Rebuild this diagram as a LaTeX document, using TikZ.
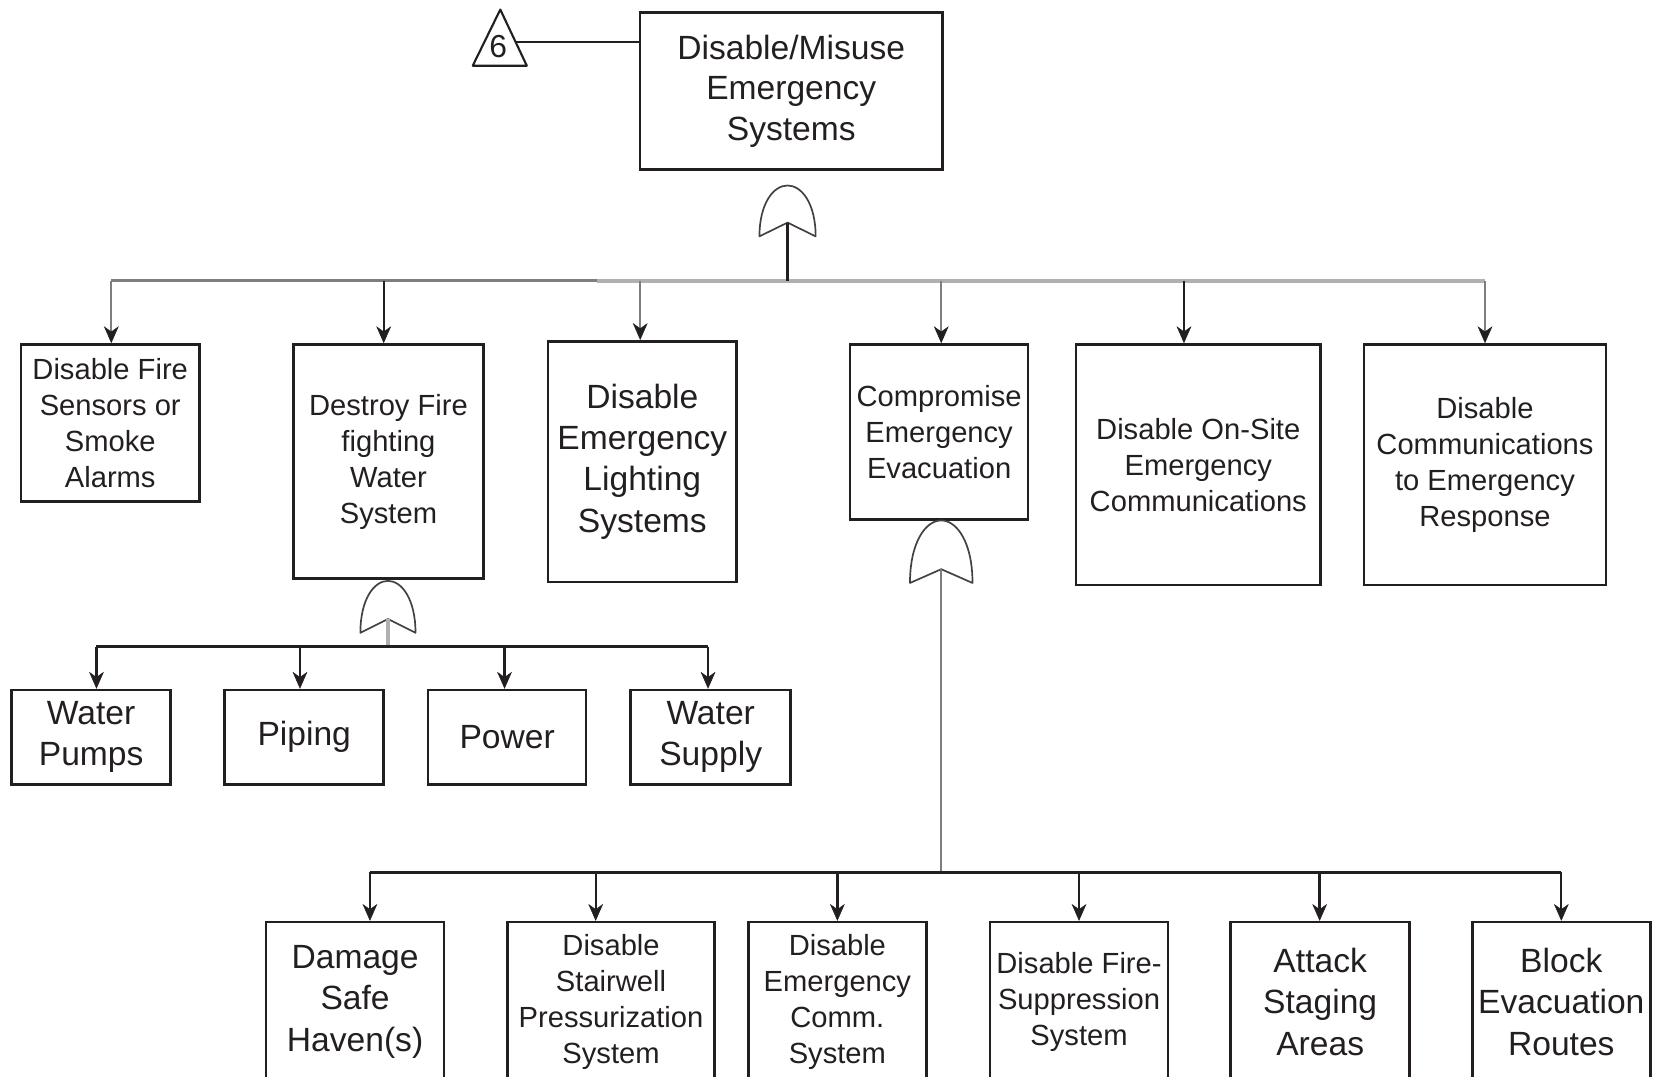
\documentclass[tikz,border=0pt]{standalone}
\usepackage{fontspec}
\setmainfont{Liberation Sans}
\usetikzlibrary{arrows.meta}

\definecolor{ink}{HTML}{231F20}
\definecolor{midgray}{HTML}{7E7E7E}
\definecolor{lightgray}{HTML}{B0B0B0}

\newcommand\orgate[5]{% #1 x, #2 apex y, #3 half width, #4 base y, #5 notch y
  \draw[gateline] (#1-#3,#4)
    .. controls (#1-#3,{#2+0.35*(#4-#2)}) and ({#1-0.5*#3},#2) .. (#1,#2)
    .. controls ({#1+0.5*#3},#2) and (#1+#3,{#2+0.35*(#4-#2)}) .. (#1+#3,#4)
    -- (#1,#5) -- cycle;}

\tikzset{
  box/.style={draw=ink, line width=2.4pt, inner sep=0pt, align=center, text=ink},
  small/.style={font=\fontsize{27.5}{34}\selectfont},
  large/.style={font=\fontsize{31.7}{39}\selectfont},
  arr/.style={draw=ink, line width=2.2pt,
    -{Stealth[length=16pt,width=14pt,inset=5pt,line width=0.5pt,color=ink,fill=ink]}},
  bus/.style={draw=ink, line width=2.6pt},
  gateline/.style={draw=ink!85, line width=1.6pt, line join=round},
}

\begin{document}
\begin{tikzpicture}[x=1pt,y=-1pt]
\useasboundingbox (0,0) rectangle (1568,1016);
\clip (0,0) rectangle (1568,1016);

% top event and transfer triangle
\node[box, large, minimum width=285, minimum height=148, font=\fontsize{31.7}{38}\selectfont] (top) at (746.5,86)
  {\raisebox{5pt}{\parbox{280pt}{\centering Disable/Misuse\\Emergency\\Systems}}};
\draw[draw=ink, line width=2pt, line join=round] (472,9) -- (497,62) -- (446,62) -- cycle;
\node[font=\fontsize{30}{34}\selectfont, text=ink, inner sep=0pt] (tri) at (470,44) {6};
\coordinate (tri-r) at (487,40);
\draw[draw=ink, line width=2pt] (tri-r) -- (top.west |- tri-r);

% first level
\node[box, small, minimum width=168, minimum height=148] (b1) at (104,399)
  {Disable Fire\\Sensors or\\Smoke\\Alarms};
\node[box, small, minimum width=179, minimum height=221] (b2) at (366.5,435.5)
  {Destroy Fire\\fighting\\Water\\System};
\node[box, large, minimum width=178, minimum height=227] (b3) at (606,435.5)
  {Disable\\Emergency\\Lighting\\Systems};
\node[box, small, minimum width=168, minimum height=165] (b4) at (886,407.5)
  {Compromise\\Emergency\\Evacuation};
\node[box, small, minimum width=231, minimum height=227] (b5) at (1130.5,438.5)
  {Disable On-Site\\Emergency\\Communications};
\node[box, small, minimum width=228, minimum height=227] (b6) at (1401,438.5)
  {Disable\\Communications\\to Emergency\\Response};

% water system branches
\node[box, large, minimum width=150, minimum height=89] (w1) at (86,695.5) {Water\\Pumps};
\node[box, large, minimum width=150, minimum height=89] (w2) at (287,695.5) {Piping};
\node[box, large, minimum width=149, minimum height=89] (w3) at (478.5,695.5) {Power};
\node[box, large, minimum width=151, minimum height=89] (w4) at (670.5,695.5) {Water\\Supply};

% evacuation branches
\node[box, large, minimum width=168, minimum height=150] (r1) at (335,945) {Damage\\Safe\\Haven(s)};
\node[box, small, minimum width=195, minimum height=150] (r2) at (576.5,945)
  {Disable\\Stairwell\\Pressurization\\System};
\node[box, small, minimum width=168, minimum height=150] (r3) at (790,945)
  {Disable\\Emergency\\Comm.\\System};
\node[box, small, minimum width=168, minimum height=150] (r4) at (1018,945)
  {Disable Fire-\\Suppression\\System};
\node[box, large, minimum width=169, minimum height=150] (r5) at (1245.5,945) {Attack\\Staging\\Areas};
\node[box, large, minimum width=168, minimum height=150] (r6) at (1473,945) {Block\\Evacuation\\Routes};

% OR gates
\orgate{743}{175}{26.5}{223}{210}
\orgate{366}{548}{26}{597}{584}
\orgate{888}{491}{29.5}{550}{537}
\coordinate (g1) at (743,210);
\coordinate (g2) at (366,584);
\coordinate (g3) at (888,537);

% buses
\coordinate (bus1) at (743,265);
\coordinate (bus2) at (366,610);
\coordinate (bus3) at (888,823);

% arrow ends on the boxes
\coordinate (a1) at ([xshift=1]b1.north);
\coordinate (a2) at ([xshift=-4.5]b2.north);
\coordinate (a3) at ([xshift=-2]b3.north);
\coordinate (a4) at ([xshift=2]b4.north);
\coordinate (a5) at ([xshift=-13.5]b5.north);
\coordinate (a6) at (b6.north);
\coordinate (c1) at ([xshift=5]w1.north);
\coordinate (c2) at ([xshift=-4]w2.north);
\coordinate (c3) at ([xshift=-2.5]w3.north);
\coordinate (c4) at ([xshift=-2.5]w4.north);
\coordinate (d1) at ([xshift=14]r1.north);
\coordinate (d2) at ([xshift=-14.5]r2.north);
\coordinate (d3) at (r3.north);
\coordinate (d4) at (r4.north);
\coordinate (d5) at ([xshift=-0.5]r5.north);
\coordinate (d6) at (r6.north);

% first level bus
\draw[draw=lightgray, line width=4pt] (563,265) -- (a6 |- bus1);
\draw[draw=midgray, line width=2.8pt] (a1 |- bus1) -- (563,265);
\draw[draw=ink, line width=2.4pt] (g1) -- (bus1);
\draw[arr, draw=midgray] (a1 |- bus1) -- (a1);
\draw[arr] (a2 |- bus1) -- (a2);
\draw[arr, draw=midgray] (a3 |- bus1) -- (a3);
\draw[arr, draw=midgray] (a4 |- bus1) -- (a4);
\draw[arr] (a5 |- bus1) -- (a5);
\draw[arr, draw=midgray] (a6 |- bus1) -- (a6);

% water system bus
\draw[draw=lightgray, line width=3pt] (g2) -- (bus2);
\draw[bus] (c1 |- bus2) -- (c4 |- bus2);
\foreach \c in {c1,c2,c3,c4} \draw[arr] (\c |- bus2) -- (\c);

% evacuation bus
\draw[draw=midgray, line width=2.2pt] (g3) -- (bus3);
\draw[bus] (d1 |- bus3) -- (d6 |- bus3);
\foreach \d in {d1,d2,d3,d4,d5,d6} \draw[arr] (\d |- bus3) -- (\d);
\end{tikzpicture}
\end{document}
